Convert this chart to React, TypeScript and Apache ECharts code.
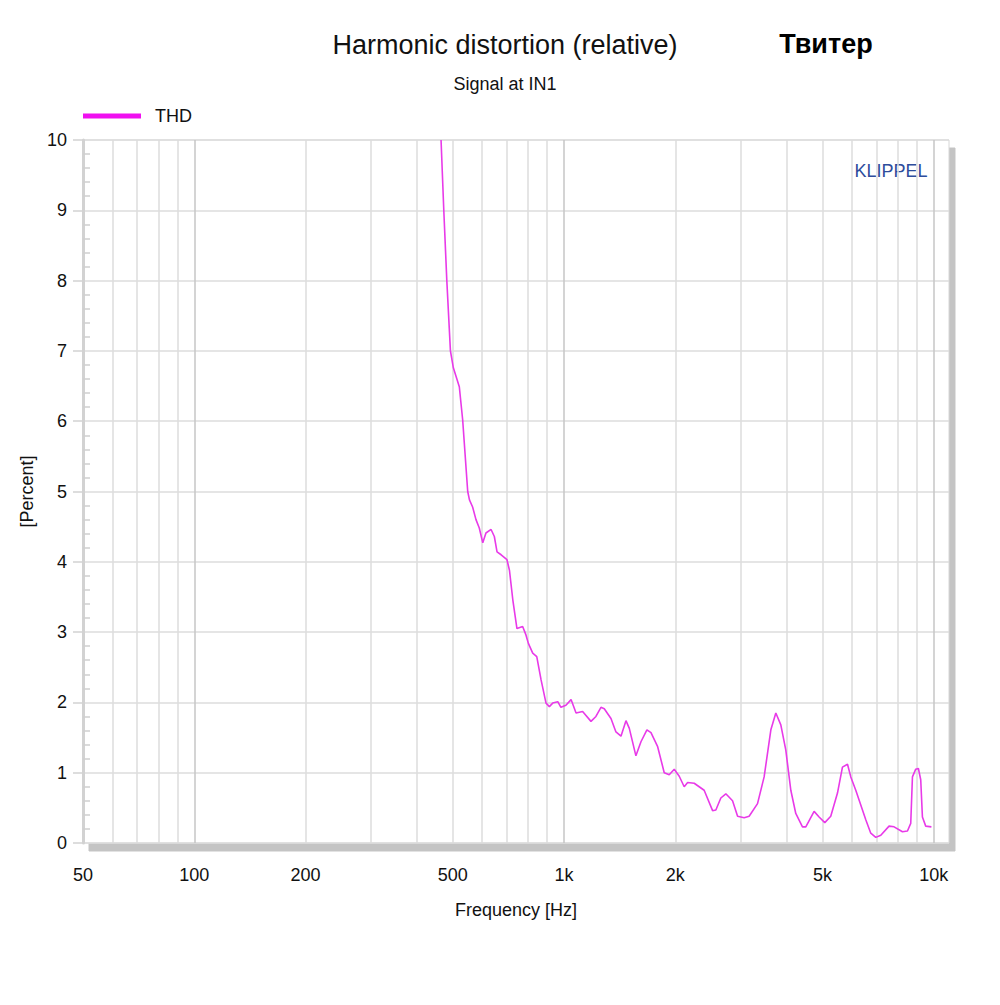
import React, { useEffect, useRef } from "react";
import * as echarts from "echarts";

const FONT = "'Liberation Sans', Arial, sans-serif";

const freqHz = [
  465, 473, 482, 493, 502, 521, 532, 549, 555, 566, 578, 590, 603, 615, 635, 648, 659, 676,
  701, 712, 727, 746, 773, 789, 801, 823, 844, 867, 894, 913, 932, 962, 981, 1012, 1045,
  1078, 1123, 1183, 1220, 1259, 1285, 1340, 1382, 1426, 1471, 1502, 1565, 1615, 1676,
  1719, 1792, 1867, 1926, 1987, 2050, 2114, 2160, 2250, 2394, 2523, 2575, 2656, 2740,
  2857, 2948, 3071, 3168, 3338, 3478, 3627, 3741, 3859, 3981, 4107, 4236, 4416, 4509,
  4748, 4898, 5075, 5267, 5492, 5665, 5846, 5967, 6155, 6350, 6551, 6758, 6971, 7193,
  7573, 7813, 8232, 8492, 8668, 8760, 8942, 9091, 9224, 9322, 9515, 9859,
];

const thdPercent = [
  10.0, 9.0, 8.0, 7.0, 6.76, 6.49, 6.02, 5.0, 4.88, 4.78, 4.6, 4.48, 4.27, 4.41, 4.46, 4.36, 4.14, 4.1,
  4.03, 3.88, 3.46, 3.05, 3.08, 2.96, 2.84, 2.7, 2.65, 2.32, 1.99, 1.94, 1.99, 2.01, 1.93, 1.96, 2.04,
  1.85, 1.87, 1.73, 1.8, 1.93, 1.91, 1.77, 1.58, 1.52, 1.74, 1.63, 1.24, 1.44, 1.61,
  1.57, 1.37, 1.0, 0.97, 1.05, 0.95, 0.8, 0.86, 0.85, 0.75, 0.46, 0.47, 0.64, 0.7,
  0.6, 0.38, 0.36, 0.38, 0.56, 0.94, 1.61, 1.85, 1.68, 1.32, 0.75, 0.42, 0.23, 0.23,
  0.45, 0.37, 0.29, 0.38, 0.71, 1.08, 1.12, 0.94, 0.75, 0.54, 0.33, 0.14, 0.08, 0.11,
  0.24, 0.23, 0.16, 0.17, 0.28, 0.94, 1.05, 1.06, 0.9, 0.37, 0.24, 0.23,
];

const xGridValues = [
  50, 60, 70, 80, 90, 100, 200, 300, 400, 500, 600, 700, 800, 900,
  1000, 2000, 3000, 4000, 5000, 6000, 7000, 8000, 9000, 10000,
];
const xLabelValues = [50, 100, 200, 500, 1000, 2000, 5000, 10000];
const decadeValues = [100, 1000, 10000];

const titleText = "Harmonic distortion (relative)";
const subtitleText = "Signal at IN1";
const cornerText = "Твитер";
const brandText = "KLIPPEL";
const seriesName = "THD";

export default function App() {
  const ref = useRef<HTMLDivElement>(null);

  useEffect(() => {
    if (!ref.current) return;
    const chart = echarts.init(ref.current, null, { renderer: "svg" });
    const gridColors = xGridValues.map((v) =>
      decadeValues.includes(v) ? "#c6c6c6" : "#dddddd"
    );
    chart.setOption({
      animation: false,
      backgroundColor: "#ffffff",
      textStyle: { fontFamily: FONT },
      grid: {
        left: 83,
        top: 140,
        width: 866,
        height: 703,
        show: true,
        backgroundColor: "#ffffff",
        borderColor: "#d6d6d6",
        borderWidth: 1,
        shadowColor: "#c4c4c4",
        shadowBlur: 0,
        shadowOffsetX: 6,
        shadowOffsetY: 8,
      },
      legend: {
        left: 83,
        top: 107,
        padding: 0,
        icon: "rect",
        itemWidth: 58,
        itemHeight: 5,
        data: [seriesName],
        textStyle: {
          fontFamily: FONT,
          fontSize: 18,
          color: "#111",
          padding: [0, 0, 0, 9],
        },
      },
      xAxis: {
        type: "log",
        logBase: 10,
        min: 50,
        max: 11000,
        name: "Frequency [Hz]",
        nameLocation: "middle",
        nameGap: 58,
        nameTextStyle: { fontFamily: FONT, fontSize: 18, color: "#111" },
        axisLine: { show: false },
        axisTick: { show: false, customValues: xGridValues },
        axisLabel: {
          customValues: xLabelValues,
          margin: 23,
          fontFamily: FONT,
          fontSize: 18,
          color: "#111",
          formatter: (v: number) => (v >= 1000 ? `${Math.round(v / 1000)}k` : `${Math.round(v)}`),
        },
        splitLine: {
          show: true,
          lineStyle: { color: gridColors, width: 1.5 },
        },
      },
      yAxis: [
        {
          type: "value",
          min: 0,
          max: 10,
          interval: 1,
          name: "[Percent]",
          nameLocation: "middle",
          nameGap: 45,
          nameTextStyle: { fontFamily: FONT, fontSize: 18, color: "#111" },
          axisLine: { show: true, lineStyle: { color: "#d2d2d2", width: 3 } },
          axisTick: { show: true, inside: false, length: 10, lineStyle: { color: "#d2d2d2", width: 1.5 } },
          axisLabel: { margin: 16, fontFamily: FONT, fontSize: 18, color: "#111" },
          splitLine: { show: true, lineStyle: { color: "#dcdcdc", width: 1.5 } },
        },
        {
          type: "value",
          min: 0,
          max: 10,
          interval: 1,
          position: "left",
          axisLine: { show: false },
          axisTick: { show: false, inside: true },
          axisLabel: { show: false },
          splitLine: { show: false },
          minorTick: { show: true, splitNumber: 5, length: 7, lineStyle: { color: "#cfcfcf", width: 1.5 } },
        },
      ],
      graphic: [
        {
          type: "text",
          x: 505,
          y: 45,
          style: {
            text: titleText,
            font: `27px ${FONT}`,
            fill: "#111",
            textAlign: "center",
            textVerticalAlign: "middle",
            align: "center",
            verticalAlign: "middle",
          },
        },
        {
          type: "text",
          x: 505,
          y: 84,
          style: {
            text: subtitleText,
            font: `18px ${FONT}`,
            fill: "#111",
            textAlign: "center",
            textVerticalAlign: "middle",
            align: "center",
            verticalAlign: "middle",
          },
        },
        {
          type: "text",
          x: 826,
          y: 44,
          style: {
            text: cornerText,
            font: `bold 27px ${FONT}`,
            fill: "#000",
            textAlign: "center",
            textVerticalAlign: "middle",
            align: "center",
            verticalAlign: "middle",
          },
        },
        {
          type: "text",
          x: 891,
          y: 171,
          style: {
            text: brandText,
            font: `18px ${FONT}`,
            fill: "#2d4d9c",
            textAlign: "center",
            textVerticalAlign: "middle",
            align: "center",
            verticalAlign: "middle",
          },
        },
      ],
      series: [
        {
          name: seriesName,
          type: "line",
          xAxisIndex: 0,
          yAxisIndex: 0,
          showSymbol: false,
          symbol: "none",
          color: "#f010f0",
          lineStyle: { color: "#e83ae8", width: 1.6 },
          data: freqHz.map((f, i) => [f, thdPercent[i]]),
        },
      ],
    });
    return () => chart.dispose();
  }, []);

  return (
    <div
      ref={ref}
      style={{ position: "absolute", left: 0, top: 0, width: 1000, height: 1005 }}
    />
  );
}
